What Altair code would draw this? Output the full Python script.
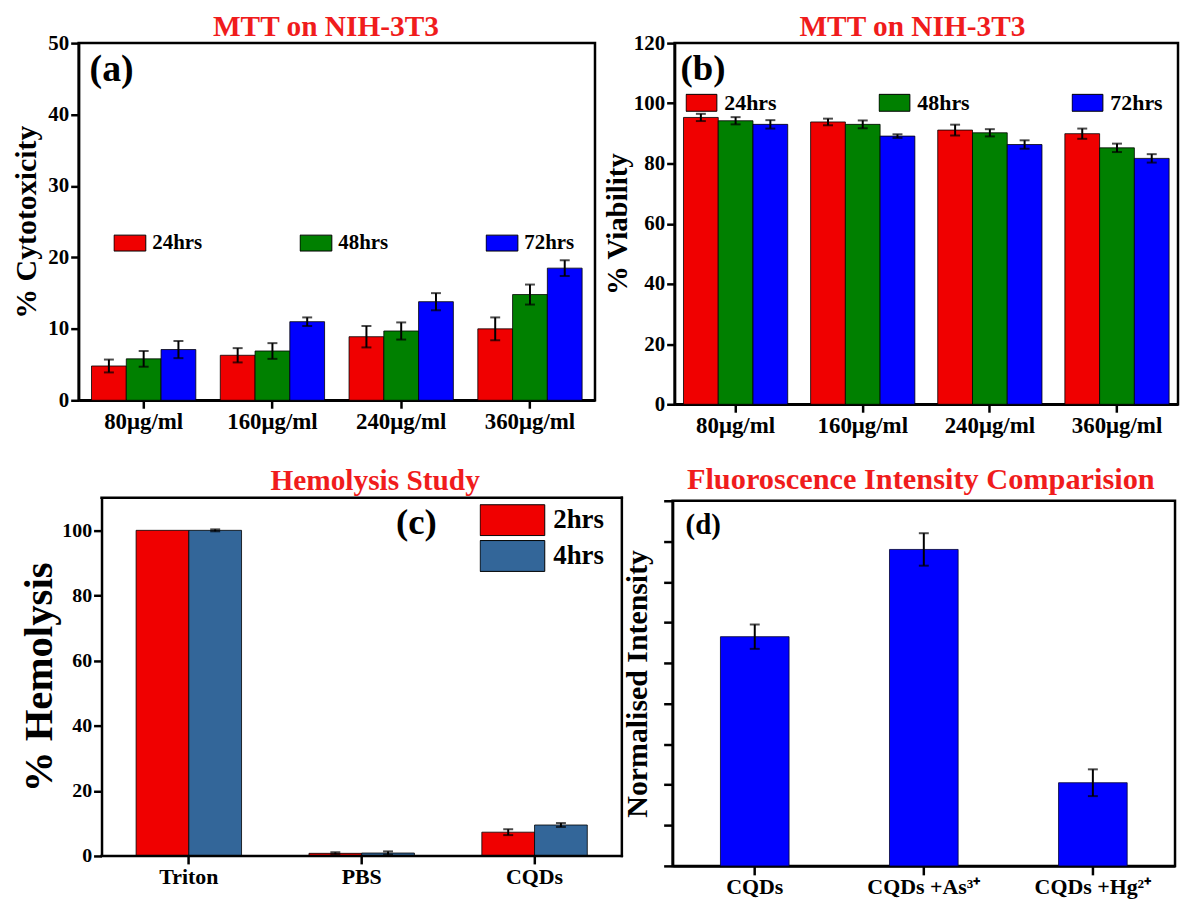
import altair as alt
import pandas as pd

FONT = "Liberation Serif"
TITLE_RED = "#f01c1c"

# ---------------- data ----------------
conc = ["80μg/ml", "160μg/ml", "240μg/ml", "360μg/ml"]
series3 = ["24hrs", "48hrs", "72hrs"]
colors3 = ["#f00000", "#008000", "#0000ff"]

cyto_24 = [4.8, 6.3, 8.9, 10.0]
cyto_48 = [5.8, 6.9, 9.7, 14.8]
cyto_72 = [7.1, 11.0, 13.8, 18.5]
cyto_err_24 = [0.9, 1.0, 1.5, 1.6]
cyto_err_48 = [1.1, 1.1, 1.2, 1.4]
cyto_err_72 = [1.2, 0.6, 1.2, 1.1]

via_24 = [95.3, 93.8, 91.1, 89.9]
via_48 = [94.2, 93.0, 90.2, 85.2]
via_72 = [93.0, 89.1, 86.3, 81.7]
via_err_24 = [1.2, 1.1, 1.8, 1.7]
via_err_48 = [1.2, 1.3, 1.2, 1.4]
via_err_72 = [1.4, 0.6, 1.4, 1.4]

hemo_groups = ["Triton", "PBS", "CQDs"]
hemo_series = ["2hrs", "4hrs"]
hemo_colors = ["#f00000", "#336699"]
hemo_2 = [100.0, 0.8, 7.3]
hemo_4 = [100.0, 0.9, 9.5]
hemo_err_2 = [0.0, 0.3, 0.9]
hemo_err_4 = [0.3, 0.5, 0.6]

fl_groups = ["CQDs", "CQDs +As³⁺", "CQDs +Hg²⁺"]
fl_vals = [5.65, 7.8, 2.05]
fl_err = [0.3, 0.4, 0.33]


def long_df(groups, series, vals, errs):
    rows = []
    for s, vv, ee in zip(series, vals, errs):
        for g, v, e in zip(groups, vv, ee):
            rows.append({"group": g, "series": s, "value": v, "lo": v - e, "hi": v + e})
    return pd.DataFrame(rows)


df_a = long_df(conc, series3, [cyto_24, cyto_48, cyto_72], [cyto_err_24, cyto_err_48, cyto_err_72])
df_b = long_df(conc, series3, [via_24, via_48, via_72], [via_err_24, via_err_48, via_err_72])
df_c = long_df(hemo_groups, hemo_series, [hemo_2, hemo_4], [hemo_err_2, hemo_err_4])
df_d = pd.DataFrame({"group": fl_groups, "value": fl_vals,
                     "lo": [v - e for v, e in zip(fl_vals, fl_err)],
                     "hi": [v + e for v, e in zip(fl_vals, fl_err)]})

ONE = pd.DataFrame({"k": [0]})


def y_axis(values, title_pad, title_size=29, label_size=21, labels=True, tick=8, offset=0):
    return alt.Axis(values=values, grid=False, domainColor="black", domainWidth=2.5,
                    tickColor="black", tickWidth=2.5, tickSize=tick, labels=labels,
                    labelFont=FONT, labelFontSize=label_size, labelFontWeight="bold",
                    labelColor="black", labelPadding=2, titleFont=FONT,
                    titleFontSize=title_size, titleFontWeight="bold",
                    titleColor="black", titlePadding=title_pad, offset=offset)


def x_axis(label_pad=2, size=23, tick=8, domain=True):
    return alt.Axis(labelAngle=0, grid=False, domain=domain, domainColor="black", domainWidth=2.5,
                    tickColor="black", tickWidth=2.5, tickSize=tick,
                    labelFont=FONT, labelFontSize=size, labelFontWeight="bold",
                    labelColor="black", labelPadding=label_pad)


def text_layer(txt, x, y, size):
    return alt.Chart(pd.DataFrame({"t": [txt]})).mark_text(
        font=FONT, fontSize=size, fontWeight="bold", align="left", baseline="middle",
        color="black").encode(text="t:N", x=alt.value(x), y=alt.value(y))


def spacer(x):
    # invisible glyph that fixes how far the panel's layout box reaches to the left
    return alt.Chart(pd.DataFrame({"t": ["."]})).mark_text(
        fontSize=4, align="left", baseline="top", opacity=0).encode(
        text="t:N", x=alt.value(x), y=alt.value(150))


def frame_rule(x, x2, y, y2):
    return alt.Chart(ONE).mark_rule(color="black", strokeWidth=2.5, strokeCap="square").encode(
        x=alt.value(x), x2=alt.value(x2), y=alt.value(y), y2=alt.value(y2))


def legend(x, y, w, h, ncol, direction, size, offset, colpad=10, rowpad=3, clip=24):
    return alt.Legend(orient="none", legendX=x, legendY=y, direction=direction, columns=ncol,
                      title=None, symbolType="M-1,-%.3fH1V%.3fH-1Z" % (h / w, h / w),
                      symbolSize=w * w, symbolStrokeColor="black", symbolStrokeWidth=1,
                      symbolOpacity=1, labelFont=FONT, labelFontSize=size, labelFontWeight="bold",
                      labelColor="black", labelOffset=offset, columnPadding=colpad,
                      rowPadding=rowpad, padding=0, clipHeight=clip)


def title(text, size, off, dx):
    return alt.TitleParams(text, font=FONT, fontSize=size, fontWeight="bold", color=TITLE_RED,
                           offset=off, dx=dx)


def grouped(df, groups, series, colors, width, height, ydom, yax, ytitle,
            pin, pout, leg, ttl, label, lx, ly, lsize, extra, xax, xrange=None):
    span = width if xrange is None else xrange[1] - xrange[0]
    band = span / (len(groups) - pin + 2 * pout) * (1 - pin)
    if xrange is None:
        xsc = alt.Scale(domain=groups, paddingInner=pin, paddingOuter=pout)
    else:
        xsc = alt.Scale(domain=groups, paddingInner=pin, paddingOuter=pout, range=xrange)
    x = alt.X("group:N", sort=groups, title=None, scale=xsc, axis=xax)
    xo = alt.XOffset("series:N", sort=series,
                     scale=alt.Scale(domain=series, paddingInner=0, paddingOuter=0,
                                     range=[0, band]))
    ysc = alt.Scale(domain=ydom, nice=False)
    bars = alt.Chart(df).mark_bar(stroke="black", strokeWidth=0.8).encode(
        x=x, xOffset=xo,
        y=alt.Y("value:Q", scale=ysc, axis=yax, title=ytitle),
        color=alt.Color("series:N", scale=alt.Scale(domain=series, range=colors), legend=leg))
    err = alt.Chart(df).transform_filter("datum.hi > datum.lo")
    rules = err.mark_rule(color="black", strokeWidth=2).encode(
        x=x, xOffset=xo, y=alt.Y("lo:Q", scale=ysc, axis=yax, title=ytitle), y2="hi:Q")
    cap_lo = err.mark_tick(color="black", thickness=2, size=10, orient="horizontal").encode(
        x=x, xOffset=xo, y=alt.Y("lo:Q", scale=ysc, axis=yax, title=ytitle))
    cap_hi = err.mark_tick(color="black", thickness=2, size=10, orient="horizontal").encode(
        x=x, xOffset=xo, y=alt.Y("hi:Q", scale=ysc, axis=yax, title=ytitle))
    return alt.layer(bars, rules, cap_lo, cap_hi, text_layer(label, lx, ly, lsize),
                     *extra).properties(width=width, height=height, title=ttl)


panel_a = grouped(df_a, conc, series3, colors3, 519, 359, [0, 50],
                  y_axis([0, 10, 20, 30, 40, 50], 6, 30, 21),
                  "% Cytotoxicity", 0.19, 0.1,
                  legend(35, 189, 32, 16, 3, "horizontal", 21, 6, colpad=97),
                  title("MTT on NIH-3T3", 29.5, -10, -11), "(a)", 11, 27, 38,
                  [spacer(-69)], x_axis(2, 23))

panel_b = grouped(df_b, conc, series3, colors3, 506, 363, [0, 120],
                  y_axis([0, 20, 40, 60, 80, 100, 120], 1, 29, 21),
                  "% Viability", 0.18, 0.07,
                  legend(11, 48, 31, 17, 3, "horizontal", 22, 7, colpad=102),
                  title("MTT on NIH-3T3", 29.5, -10, -14), "(b)", 6, 26, 37,
                  [spacer(-73)], x_axis(2, 23))

# panel c: plot box starts 23px right of the column edge, so the axis is moved inward
C_IN = 23
C_W = 546
C_H = 360
panel_c = grouped(df_c, hemo_groups, hemo_series, hemo_colors, C_W, C_H, [0, 110],
                  y_axis([0, 20, 40, 60, 80, 100], 1, 41, 20, offset=-C_IN),
                  "% Hemolysis", 0.39, 0.2,
                  legend(380 + C_IN, 6, 65, 31, 1, "vertical", 27, 8, rowpad=3, clip=33),
                  title("Hemolysis Study", 29.5, 0, 25), "(c)", 296 + C_IN, 25, 37,
                  [frame_rule(C_IN, C_W, 0, 0),
                   frame_rule(C_W, C_W, 0, C_H),
                   frame_rule(C_IN, C_W, C_H, C_H)],
                  x_axis(3, 22, 8, domain=False), xrange=[C_IN, C_W]).properties(
    view=alt.ViewBackground(stroke="transparent"))

# panel d
xd = alt.X("group:N", sort=fl_groups, title=None,
           scale=alt.Scale(domain=fl_groups, paddingInner=0.594, paddingOuter=0.283),
           axis=x_axis(2, 22, 9))
yd_sc = alt.Scale(domain=[0, 9], nice=False)
yd_ax = y_axis(list(range(10)), 10, 30, 20, labels=False, tick=9)
yd_title = "Normalised Intensity"
bars_d = alt.Chart(df_d).mark_bar(fill="#0000ff", stroke="#000033", strokeWidth=0.8).encode(
    x=xd, y=alt.Y("value:Q", scale=yd_sc, axis=yd_ax, title=yd_title))
rules_d = alt.Chart(df_d).mark_rule(color="black", strokeWidth=2).encode(
    x=xd, y=alt.Y("lo:Q", scale=yd_sc, axis=yd_ax, title=yd_title), y2="hi:Q")
caplo_d = alt.Chart(df_d).mark_tick(color="black", thickness=2, size=10, orient="horizontal").encode(
    x=xd, y=alt.Y("lo:Q", scale=yd_sc, axis=yd_ax, title=yd_title))
caphi_d = alt.Chart(df_d).mark_tick(color="black", thickness=2, size=10, orient="horizontal").encode(
    x=xd, y=alt.Y("hi:Q", scale=yd_sc, axis=yd_ax, title=yd_title))
panel_d = alt.layer(bars_d, rules_d, caplo_d, caphi_d, text_layer("(d)", 13, 24, 29),
                    spacer(-71)).properties(
    width=505, height=367,
    title=title("Fluoroscence Intensity Comparision", 30.5, 4, -3))

chart = alt.concat(panel_a, panel_b, panel_c, panel_d, columns=2).properties(
    align="none", spacing={"row": 25, "column": -26}, padding=0, background="white"
).resolve_scale(color="independent", xOffset="independent").resolve_legend(
    color="independent").configure_view(stroke="black", strokeWidth=2.5)

chart.save("out.html", embed_options={"renderer": "svg", "actions": False})
